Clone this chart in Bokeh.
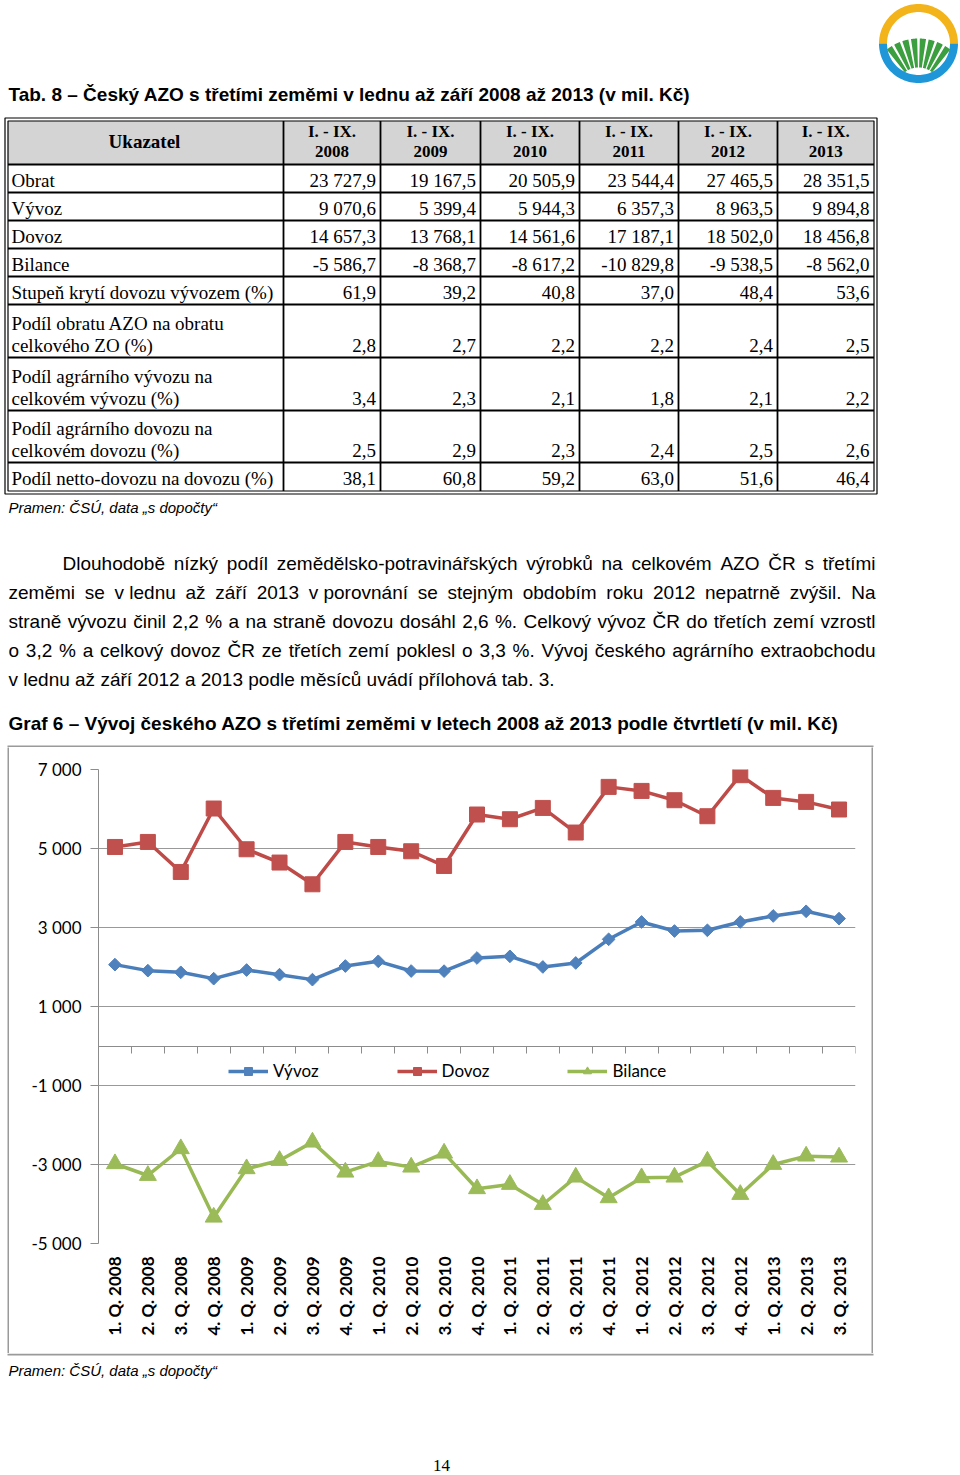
import math
from bokeh.plotting import figure
from bokeh.models import Range1d, FixedTicker, LinearAxis, Legend, LegendItem
from bokeh.layouts import column, row
from bokeh.core.properties import value
from bokeh.embed import file_html
from bokeh.resources import INLINE

# ---------------- table data ----------------
table_title = "Tab. 8 – Český AZO s třetími zeměmi v lednu až září 2008 až 2013 (v mil. Kč)"
table_head = "Ukazatel"
period_label = "I. - IX."
table_years = ["2008", "2009", "2010", "2011", "2012", "2013"]
obrat_t = [23727.9, 19167.5, 20505.9, 23544.4, 27465.5, 28351.5]
vyvoz_t = [9070.6, 5399.4, 5944.3, 6357.3, 8963.5, 9894.8]
dovoz_t = [14657.3, 13768.1, 14561.6, 17187.1, 18502.0, 18456.8]
bilance_t = [-5586.7, -8368.7, -8617.2, -10829.8, -9538.5, -8562.0]
kryti_t = [61.9, 39.2, 40.8, 37.0, 48.4, 53.6]
podil_obratu_t = [2.8, 2.7, 2.2, 2.2, 2.4, 2.5]
podil_vyvozu_t = [3.4, 2.3, 2.1, 1.8, 2.1, 2.2]
podil_dovozu_t = [2.5, 2.9, 2.3, 2.4, 2.5, 2.6]
netto_t = [38.1, 60.8, 59.2, 63.0, 51.6, 46.4]
row_labels = [
    ["Obrat"], ["Vývoz"], ["Dovoz"], ["Bilance"],
    ["Stupeň krytí dovozu vývozem (%)"],
    ["Podíl obratu AZO na obratu", "celkového ZO (%)"],
    ["Podíl agrárního vývozu na", "celkovém vývozu (%)"],
    ["Podíl agrárního dovozu na", "celkovém dovozu (%)"],
    ["Podíl netto-dovozu na dovozu (%)"],
]
row_values = [obrat_t, vyvoz_t, dovoz_t, bilance_t, kryti_t,
              podil_obratu_t, podil_vyvozu_t, podil_dovozu_t, netto_t]
source_text = "Pramen: ČSÚ, data „s dopočty“"

paragraph = [
    "Dlouhodobě nízký podíl zemědělsko-potravinářských výrobků na celkovém AZO ČR s třetími",
    "zeměmi se v\u00a0lednu až září 2013 v\u00a0porovnání se stejným obdobím roku 2012 nepatrně zvýšil. Na",
    "straně vývozu činil 2,2 % a na straně dovozu dosáhl 2,6 %. Celkový vývoz ČR do třetích zemí vzrostl",
    "o 3,2 % a celkový dovoz ČR ze třetích zemí poklesl o 3,3 %. Vývoj českého agrárního extraobchodu",
    "v\u00a0lednu až září 2012 a 2013 podle měsíců uvádí přílohová tab. 3.",
]
chart_title = "Graf 6 – Vývoj českého AZO s třetími zeměmi v letech 2008 až 2013 podle čtvrtletí (v mil. Kč)"
page_number = "14"

# ---------------- chart data ----------------
quarters = ["1. Q. 2008", "2. Q. 2008", "3. Q. 2008", "4. Q. 2008",
            "1. Q. 2009", "2. Q. 2009", "3. Q. 2009", "4. Q. 2009",
            "1. Q. 2010", "2. Q. 2010", "3. Q. 2010", "4. Q. 2010",
            "1. Q. 2011", "2. Q. 2011", "3. Q. 2011", "4. Q. 2011",
            "1. Q. 2012", "2. Q. 2012", "3. Q. 2012", "4. Q. 2012",
            "1. Q. 2013", "2. Q. 2013", "3. Q. 2013"]
vyvoz = [2060, 1908, 1865, 1705, 1923, 1806, 1680, 2025, 2144, 1898, 1895, 2228,
         2270, 2001, 2102, 2701, 3140, 2911, 2929, 3140, 3292, 3410, 3225]
dovoz = [5039, 5166, 4406, 6012, 4981, 4644, 4094, 5166, 5039, 4930, 4558, 5860,
         5741, 6027, 5404, 6560, 6458, 6222, 5817, 6856, 6281, 6180, 5987]
bilance = [-2981, -3278, -2601, -4334, -3108, -2898, -2434, -3194, -2923, -3067, -2713, -3614,
           -3505, -4012, -3320, -3843, -3336, -3320, -2915, -3759, -2999, -2788, -2813]
series_names = ["Vývoz", "Dovoz", "Bilance"]
y_ticks = [-5000, -3000, -1000, 1000, 3000, 5000, 7000]
y_tick_labels = ["-5 000", "-3 000", "-1 000", "1 000", "3 000", "5 000", "7 000"]

# ---------------- helpers ----------------
W = 960
H_TOP, H_CHART, H_BOTTOM = 747, 606, 122
BOX_L, BOX_R, BOX_W = 7, 873, 2
BOX_COLOR = "#9a9a9a"


def page_fig(h, y0):
    p = figure(width=W, height=h, x_range=Range1d(0, W), y_range=Range1d(y0 + h, y0),
               output_backend="svg", toolbar_location=None,
               x_axis_location=None, y_axis_location=None,
               min_border=0, min_border_left=0, min_border_right=0,
               min_border_top=0, min_border_bottom=0,
               outline_line_color=None, frame_align=False)
    p.grid.visible = False
    p.background_fill_color = "white"
    p.border_fill_color = "white"
    return p


def bar_fig(w, h):
    p = figure(width=w, height=h, x_range=Range1d(0, 1), y_range=Range1d(0, 1),
               output_backend="svg", toolbar_location=None,
               x_axis_location=None, y_axis_location=None,
               min_border=0, min_border_left=0, min_border_right=0,
               min_border_top=0, min_border_bottom=0,
               outline_line_color=None, frame_align=False)
    p.grid.visible = False
    p.background_fill_color = BOX_COLOR
    p.border_fill_color = BOX_COLOR
    return p


def txt(p, xs, ys, texts, font, size, align="left", style="normal", color="black"):
    # ys are visual centre lines of the text
    p.text(x=xs, y=ys, text=texts, text_font=value(font), text_font_size=value(f"{size}px"),
           text_align=align, text_baseline="middle", text_font_style=style,
           text_color=color)


def fmt(v):
    s = f"{abs(v):,.1f}".replace(",", " ").replace(".", ",")
    return ("-" if v < 0 else "") + s


ARIAL = {c: 556 for c in "abdeghnopquáéěóúůň0123456789"}
ARIAL.update({c: 500 for c in "cksvxyzýčšž"})
ARIAL.update({c: 222 for c in "ijl"})
ARIAL.update({"f": 278, "t": 278, "í": 278, "r": 333, "ř": 333, "m": 833, "w": 722,
              " ": 278, "\u00a0": 278, ".": 278, ",": 278, "%": 889, "-": 333,
              "(": 333, ")": 333, "A": 667, "C": 722, "Č": 722, "D": 722, "N": 722,
              "O": 778, "R": 722, "V": 667, "Z": 611})

# ================= top part: title, table, paragraph =================
top = page_fig(H_TOP, 0)

txt(top, [8], [94], [table_title], "Liberation Sans", 19, style="bold")

col_edges = [7.5, 283, 380, 480, 579, 678, 777, 873.5]
row_edges = [120.5, 164, 192, 220, 248, 276, 304, 357, 410, 462, 490.5]

top.quad(left=[col_edges[0]], right=[col_edges[-1]], top=[row_edges[0]], bottom=[row_edges[1]],
         fill_color="#d4d4d4", line_color=None)
top.quad(left=[4.5], right=[876.5], top=[117.5], bottom=[493.5],
         fill_color=None, line_color="black", line_width=1.2)
top.quad(left=[col_edges[0]], right=[col_edges[-1]], top=[row_edges[0]], bottom=[row_edges[-1]],
         fill_color=None, line_color="black", line_width=1.2)
vx = col_edges[1:-1]
top.segment(x0=vx, x1=vx, y0=[row_edges[0]] * len(vx), y1=[row_edges[-1]] * len(vx),
            line_color="black", line_width=1.8)
hy = row_edges[1:-1]
top.segment(x0=[col_edges[0]] * len(hy), x1=[col_edges[-1]] * len(hy), y0=hy, y1=hy,
            line_color="black", line_width=1.8)

txt(top, [144], [141], [table_head], "Liberation Serif", 19, align="center", style="bold")
centers = [(col_edges[i] + col_edges[i + 1]) / 2 for i in range(1, len(col_edges) - 1)]
txt(top, centers, [131] * len(centers), [period_label] * len(centers),
    "Liberation Serif", 17, align="center", style="bold")
txt(top, centers, [151] * len(centers), table_years,
    "Liberation Serif", 17, align="center", style="bold")

for i, (labels, vals) in enumerate(zip(row_labels, row_values)):
    bottom_y = row_edges[i + 2]
    mid = bottom_y - 12.5
    n = len(labels)
    ys = [mid - 22 * (n - 1 - k) for k in range(n)]
    txt(top, [11] * n, ys, labels, "Liberation Serif", 19)
    rights = [col_edges[j + 2] - 4.5 for j in range(len(vals))]
    txt(top, rights, [mid] * len(vals), [fmt(v) for v in vals],
        "Liberation Serif", 19, align="right")

txt(top, [8], [507], [source_text], "Liberation Sans", 15, style="italic")

FS = 19
for i, line in enumerate(paragraph):
    mid = 563 + 29 * i
    x_start = 62 if i == 0 else 8
    if i < len(paragraph) - 1:
        words = line.split(" ")
        ws = [sum(ARIAL.get(c, 556) for c in w) * FS / 1000 for w in words]
        gap = (875 - x_start - sum(ws)) / (len(words) - 1)
        xs, x = [], x_start
        for w in ws:
            xs.append(x)
            x += w + gap
        txt(top, xs, [mid] * len(words), words, "Liberation Sans", FS)
    else:
        txt(top, [x_start], [mid], [line], "Liberation Sans", FS)

txt(top, [8], [723], [chart_title], "Liberation Sans", 19, style="bold")

# top edge of the chart box
top.segment(x0=[BOX_L], x1=[BOX_R], y0=[H_TOP - 1], y1=[H_TOP - 1],
            line_color=BOX_COLOR, line_width=BOX_W)

# logo (decoration)
cx, cy = 918, 43


def ring_poly(r_out, r_in, a0, a1, n=60):
    angs = [a0 + (a1 - a0) * k / n for k in range(n + 1)]
    xs = [cx + r_out * math.cos(a) for a in angs] + [cx + r_in * math.cos(a) for a in reversed(angs)]
    ys = [cy - r_out * math.sin(a) for a in angs] + [cy - r_in * math.sin(a) for a in reversed(angs)]
    return xs, ys


vx0, vy0 = cx, cy + 46
stripe_xs, stripe_ys = [], []
n_str = 8
span = math.radians(80)
pitch = span / n_str
for k in range(n_str):
    p0 = -span / 2 + k * pitch + pitch * 0.15
    p1 = p0 + pitch * 0.7
    ps = [p0 + (p1 - p0) * j / 10 for j in range(11)]
    xs = [vx0 + 51 * math.sin(p) for p in ps] + [vx0 + 22 * math.sin(p) for p in reversed(ps)]
    ys = [vy0 - 51 * math.cos(p) for p in ps] + [vy0 - 22 * math.cos(p) for p in reversed(ps)]
    stripe_xs.append(xs)
    stripe_ys.append(ys)
top.patches(xs=stripe_xs, ys=stripe_ys, fill_color="#3b9e3f", line_color=None)
yx, yy = ring_poly(39.5, 31.5, 0, math.pi)
bx, by = ring_poly(39.5, 31.5, math.pi, 2 * math.pi)
top.patches(xs=[yx, bx], ys=[yy, by], fill_color=["#f3b41b", "#1e96d7"], line_color=None)

# ================= chart =================
BLUE, BLUE_M = "#4A7EBB", "#4F81BD"
RED, RED_M = "#BE4B48", "#C0504D"
GREEN, GREEN_M = "#98B954", "#9BBB59"

CH_W = BOX_R - BOX_L - 2 * BOX_W   # inner width of the box
xs_q = list(range(1, len(quarters) + 1))
chart = figure(width=CH_W, height=H_CHART, x_range=Range1d(0.5, len(quarters) + 0.5),
               y_range=Range1d(-5000, 7000), output_backend="svg", toolbar_location=None,
               min_border_left=98 - BOX_L - BOX_W, min_border_right=BOX_R - BOX_W - 855,
               min_border_top=22, min_border_bottom=110,
               outline_line_color=None, frame_align=False)
chart.background_fill_color = "white"
chart.border_fill_color = "white"

xa = chart.below[0]
xa.ticker = FixedTicker(ticks=xs_q)
xa.major_label_overrides = {x: q for x, q in zip(xs_q, quarters)}
xa.major_label_orientation = math.pi / 2
xa.major_label_text_font = "Lato"
xa.major_label_text_font_style = "bold"
xa.major_label_text_font_size = "17px"
xa.major_label_text_color = "black"
xa.axis_line_color = None
xa.major_tick_line_color = None
xa.minor_tick_line_color = None
xa.major_tick_out = 0
xa.major_tick_in = 0
xa.major_label_standoff = 13

ya = chart.left[0]
ya.ticker = FixedTicker(ticks=y_ticks)
ya.major_label_overrides = dict(zip(y_ticks, y_tick_labels))
ya.major_label_text_font = "Lato"
ya.major_label_text_font_size = "17px"
ya.major_label_text_color = "black"
ya.axis_line_color = "#8c8c8c"
ya.major_tick_line_color = "#8c8c8c"
ya.minor_tick_line_color = None
ya.major_tick_out = 8
ya.major_tick_in = 0
ya.major_label_standoff = 9

chart.xgrid.visible = False
chart.ygrid.ticker = FixedTicker(ticks=y_ticks)
chart.ygrid.grid_line_color = "#999999"
chart.ygrid.grid_line_width = 1

zero_axis = LinearAxis(fixed_location=0,
                       ticker=FixedTicker(ticks=[i + 0.5 for i in range(len(quarters) + 1)]),
                       major_label_text_color=None, major_label_text_font_size="1px",
                       major_tick_out=7, major_tick_in=0, major_label_standoff=0,
                       axis_line_color="#8c8c8c", major_tick_line_color="#8c8c8c",
                       minor_tick_line_color=None)
chart.add_layout(zero_axis, "below")

rv_l = chart.line(xs_q, vyvoz, line_color=BLUE, line_width=3.5, line_join="round")
rv_m = chart.scatter(xs_q, vyvoz, marker="square", angle=math.pi / 4, size=9,
                     fill_color=BLUE_M, line_color=BLUE_M)
rd_l = chart.line(xs_q, dovoz, line_color=RED, line_width=3.5, line_join="round")
rd_m = chart.scatter(xs_q, dovoz, marker="square", size=15, fill_color=RED_M, line_color=RED_M)
rb_l = chart.line(xs_q, bilance, line_color=GREEN, line_width=3.5, line_join="round")
rb_m = chart.scatter(xs_q, bilance, marker="triangle", size=17, fill_color=GREEN_M, line_color=GREEN_M)

legend = Legend(items=[LegendItem(label=series_names[0], renderers=[rv_l, rv_m]),
                       LegendItem(label=series_names[1], renderers=[rd_l, rd_m]),
                       LegendItem(label=series_names[2], renderers=[rb_l, rb_m])],
                orientation="horizontal", location=(130, 162), padding=0, margin=0,
                spacing=78, label_standoff=5, glyph_width=40, glyph_height=20, label_height=20,
                border_line_color=None, background_fill_alpha=0,
                label_text_font="Lato", label_text_font_size="17px", label_text_color="black")
chart.add_layout(legend)

chart_row = row(bar_fig(BOX_W, H_CHART), chart, bar_fig(BOX_W, H_CHART),
                margin=(0, 0, 0, BOX_L))

# ================= bottom =================
bottom = page_fig(H_BOTTOM, H_TOP + H_CHART)
bottom.segment(x0=[BOX_L], x1=[BOX_R], y0=[H_TOP + H_CHART + 1], y1=[H_TOP + H_CHART + 1],
               line_color=BOX_COLOR, line_width=BOX_W)
txt(bottom, [8], [1370], [source_text], "Liberation Sans", 15, style="italic")
txt(bottom, [441], [1465], [page_number], "Liberation Serif", 17, align="center")

layout = column(top, chart_row, bottom)
open("out.html", "w").write(file_html(layout, INLINE))
